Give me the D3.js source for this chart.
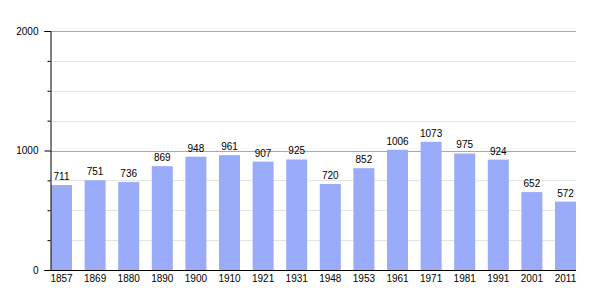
<!DOCTYPE html>
<html>
<head>
<meta charset="utf-8">
<script src="https://cdn.jsdelivr.net/npm/d3@7"></script>
<style>
    body { margin: 0; background: #fff; }
    text { font-family: "Liberation Sans", Arial, sans-serif; font-size: 10px; fill: #000; }
</style>
</head>
<body>
<div id="chart"></div>
<script>
// census years and population
var years = ["1857", "1869", "1880", "1890", "1900", "1910", "1921", "1931", "1948", "1953", "1961", "1971", "1981", "1991", "2001", "2011"];
var population = [711, 751, 736, 869, 948, 961, 907, 925, 720, 852, 1006, 1073, 975, 924, 652, 572];
var majorTicks = [0, 1000, 2000];
var minorTicks = [250, 500, 750, 1250, 1500, 1750];

var data = years.map(function(y, i) { return { year: y, value: population[i] }; });

var width = 605, height = 300;
var plot = { left: 50, right: 576, top: 31, bottom: 270 };

var svg = d3.select("#chart").append("svg")
    .attr("width", width)
    .attr("height", height);

var x = d3.scaleBand()
    .domain(years)
    .range([plot.left + 1, plot.right])
    .paddingInner(0.375)
    .paddingOuter(0);

var y = d3.scaleLinear()
    .domain([0, 2000])
    .range([plot.bottom, plot.top]);

// grid lines
svg.append("g").selectAll("line.minor")
    .data(minorTicks)
    .enter().append("line")
    .attr("class", "minor")
    .attr("x1", plot.left).attr("x2", plot.right)
    .attr("y1", d => Math.round(y(d)) + 0.5)
    .attr("y2", d => Math.round(y(d)) + 0.5)
    .attr("stroke", "#e4e4e4");

svg.append("g").selectAll("line.major")
    .data([1000, 2000])
    .enter().append("line")
    .attr("class", "major")
    .attr("x1", plot.left).attr("x2", plot.right)
    .attr("y1", d => Math.round(y(d)) + 0.5)
    .attr("y2", d => Math.round(y(d)) + 0.5)
    .attr("stroke", "#a8a8a8");

// bars
svg.append("g").selectAll("rect")
    .data(data)
    .enter().append("rect")
    .attr("x", d => x(d.year))
    .attr("width", x.bandwidth())
    .attr("y", d => y(d.value))
    .attr("height", d => y(0) - y(d.value))
    .attr("fill", "#9aabfa");

// value labels
svg.append("g").selectAll("text")
    .data(data)
    .enter().append("text")
    .attr("x", d => x(d.year) + x.bandwidth() / 2)
    .attr("y", d => y(d.value) - 5)
    .attr("text-anchor", "middle")
    .text(d => d.value);

// y axis
var yAxis = d3.axisLeft(y)
    .tickValues(majorTicks)
    .tickSize(6)
    .tickPadding(6)
    .tickFormat(d3.format("d"));

var gy = svg.append("g")
    .attr("transform", "translate(" + (plot.left + 0.5) + ",0)")
    .call(yAxis);
gy.select(".domain").attr("stroke", "#000");
gy.selectAll("text").style("font-size", "10px").attr("fill", "#000");

var gyMinor = svg.append("g")
    .attr("transform", "translate(" + (plot.left + 0.5) + ",0)")
    .call(d3.axisLeft(y).tickValues(minorTicks).tickSize(3).tickFormat(""));
gyMinor.select(".domain").remove();

// x axis
var xAxis = d3.axisBottom(x)
    .tickSize(0)
    .tickPadding(4)
    .tickSizeOuter(0);

var gx = svg.append("g")
    .attr("transform", "translate(0," + (plot.bottom + 0.5) + ")")
    .call(xAxis);
gx.select(".domain").attr("stroke", "#000").attr("d", "M" + plot.left + ",0H" + plot.right);
gx.selectAll("text").style("font-size", "10px").attr("fill", "#000");
</script>
</body>
</html>
